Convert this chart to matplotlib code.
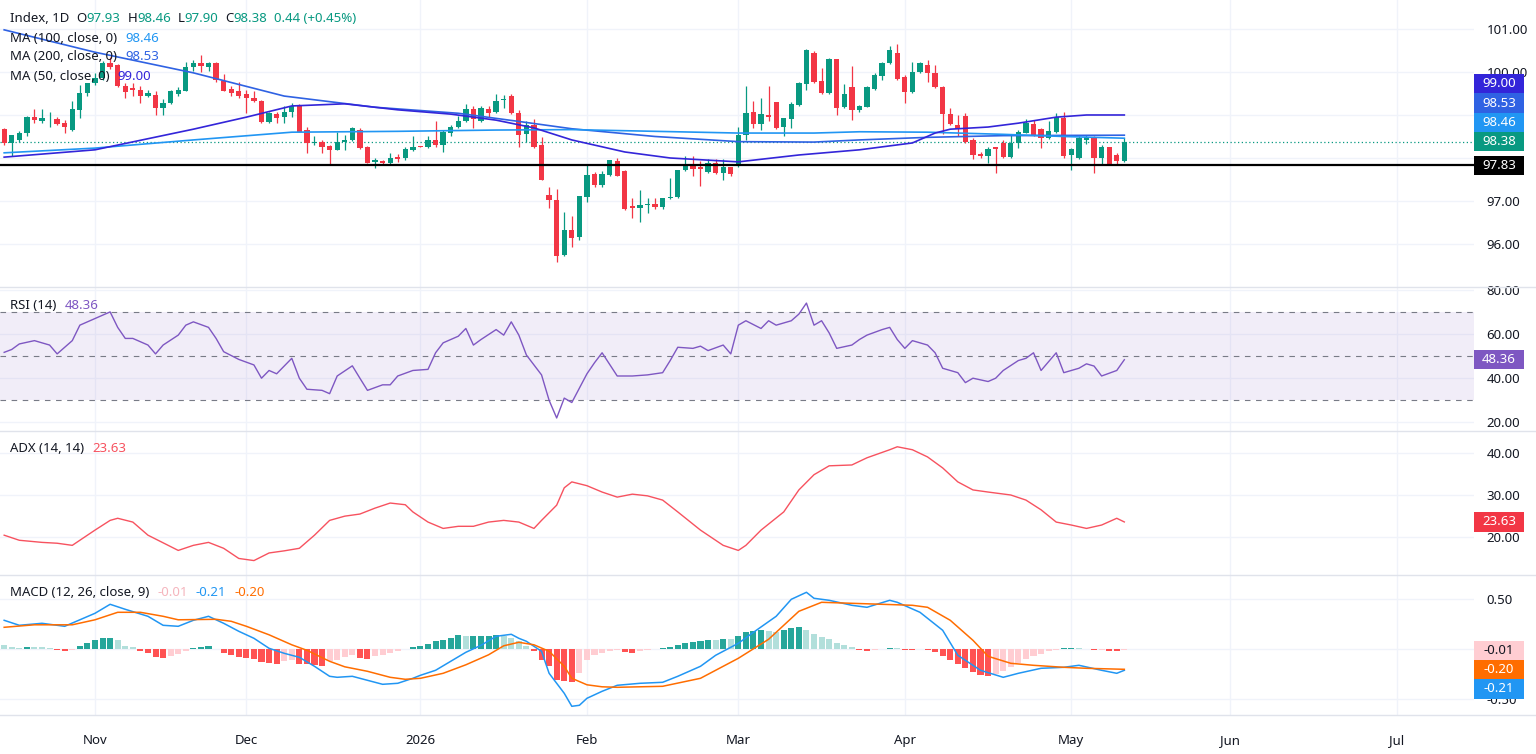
import matplotlib
matplotlib.use("Agg")
import matplotlib.pyplot as plt
from matplotlib.patches import Rectangle
import numpy as np
import pandas as pd

plt.rcParams['font.family'] = ['Noto Sans', 'DejaVu Sans']

# daily bars 16 Oct 2025 .. 12 May 2026; line vertices use bar numbers counted from 3 Nov 2025
first_day = "2025-10-16"
last_day = "2026-05-12"
bars_before_nov3 = 12
support = 97.83

opens = [98.67, 98.34, 98.42, 98.59, 98.96, 98.87, 98.90, 98.91, 98.81, 98.65, 99.12, 99.51,
         99.74, 99.85, 100.20, 100.16, 99.67, 99.63, 99.59, 99.45, 99.46, 99.16, 99.28, 99.48, 99.56, 100.11, 100.22, 100.12, 100.20, 99.79, 99.61, 99.55,
         99.48, 99.39, 99.33, 98.84, 99.03, 98.95, 99.08, 99.23, 98.65, 98.34, 98.37, 98.27, 98.19, 98.37, 98.42, 98.65, 98.26, 97.91, 97.93, 97.89, 98.03, 97.99, 98.18,
         98.27, 98.26, 98.43, 98.30, 98.59, 98.73, 98.85, 99.13, 98.87, 99.14, 99.07, 99.35, 99.44, 99.04, 98.55, 98.77, 98.30, 97.14, 97.02, 95.74, 96.33, 96.16,
         97.10, 97.63, 97.37, 97.60, 97.93, 97.70, 96.88, 96.83, 96.90, 96.94, 96.85, 97.06, 97.10, 97.71, 97.84, 97.78, 97.67, 97.88, 97.64, 97.79,
         97.86, 98.53, 99.06, 98.79, 99.01, 99.30, 98.71, 98.91, 99.24, 99.72, 100.45, 99.79, 99.52, 100.30, 99.18, 99.66, 99.12, 99.19, 99.60, 99.91, 100.20, 100.45,
         99.89, 99.54, 100.01, 100.16, 99.97, 99.66, 99.02, 98.77, 98.98, 98.42, 98.10, 98.05, 98.25, 98.36, 98.03, 98.34, 98.59, 98.79, 98.67, 98.46, 98.61, 98.92,
         98.07, 97.99, 98.43, 98.46, 98.01, 98.25, 98.07, 97.93]
highs = [98.69, 98.54, 98.62, 98.97, 99.13, 99.13, 99.08, 98.96, 98.88, 99.33, 99.70, 99.75,
         99.97, 100.26, 100.36, 100.18, 99.75, 99.74, 99.67, 99.59, 99.55, 99.37, 99.59, 99.65, 100.24, 100.27, 100.40, 100.24, 100.24, 99.95, 99.67, 99.77,
         99.57, 99.55, 99.36, 99.08, 99.08, 99.21, 99.29, 99.26, 98.73, 98.51, 98.41, 98.30, 98.61, 98.53, 98.73, 98.69, 98.27, 97.99, 97.95, 98.11, 98.09, 98.26, 98.50,
         98.28, 98.50, 98.87, 98.66, 98.77, 98.98, 99.26, 99.21, 99.21, 99.20, 99.49, 99.46, 99.49, 99.12, 98.85, 98.90, 98.48, 97.33, 97.27, 96.75, 96.65, 97.12,
         97.84, 97.67, 97.70, 97.96, 98.01, 97.71, 97.06, 97.26, 97.06, 97.08, 97.08, 97.53, 97.73, 98.05, 98.05, 97.94, 97.97, 97.98, 97.97, 97.80,
         98.71, 99.67, 99.33, 99.40, 99.67, 99.31, 98.94, 99.31, 99.77, 100.53, 100.48, 100.09, 100.32, 100.30, 99.72, 100.14, 99.24, 99.68, 99.98, 100.24, 100.60, 100.65,
         99.93, 100.24, 100.24, 100.28, 100.16, 99.68, 99.16, 99.00, 99.04, 98.46, 98.15, 98.26, 98.26, 98.42, 98.53, 98.65, 98.90, 98.88, 98.69, 98.87, 99.04, 99.08,
         98.23, 98.50, 98.53, 98.50, 98.30, 98.26, 98.12, 98.46]
lows = [98.30, 98.05, 98.38, 98.51, 98.81, 98.81, 98.71, 98.77, 98.57, 98.62, 98.92, 99.43,
        99.70, 99.81, 100.06, 99.66, 99.39, 99.43, 99.29, 99.41, 98.99, 98.99, 99.26, 99.43, 99.55, 100.03, 100.01, 100.03, 99.77, 99.55, 99.43, 99.39,
        99.04, 99.31, 98.81, 98.81, 98.82, 98.81, 98.96, 98.60, 98.12, 98.30, 98.12, 97.84, 98.18, 98.19, 98.40, 98.21, 97.88, 97.76, 97.87, 97.87, 97.91, 97.95, 98.16,
        98.25, 98.23, 98.26, 98.14, 98.51, 98.69, 98.83, 98.69, 98.84, 98.96, 99.05, 99.16, 99.02, 98.26, 98.38, 98.24, 97.49, 96.83, 95.57, 95.72, 95.94, 96.09,
        96.98, 97.33, 97.32, 97.58, 97.57, 96.79, 96.60, 96.50, 96.73, 96.82, 96.82, 97.05, 97.08, 97.69, 97.58, 97.35, 97.65, 97.63, 97.48, 97.57,
        97.80, 98.42, 98.69, 98.66, 98.86, 98.68, 98.50, 98.69, 99.22, 99.58, 99.74, 99.49, 99.49, 99.00, 99.16, 98.88, 99.08, 99.18, 99.59, 99.82, 100.19, 99.82,
        99.29, 99.52, 99.98, 99.77, 99.62, 98.56, 98.77, 98.51, 98.36, 97.97, 97.99, 97.88, 97.64, 98.01, 98.01, 98.23, 98.57, 98.50, 98.23, 98.44, 98.59, 97.99,
        97.72, 97.97, 98.33, 97.64, 97.84, 97.84, 97.86, 97.90]
closes = [98.34, 98.53, 98.59, 98.96, 98.88, 98.92, 98.91, 98.79, 98.71, 99.13, 99.52, 99.74,
          99.85, 100.20, 100.12, 99.67, 99.53, 99.59, 99.45, 99.50, 99.16, 99.29, 99.55, 99.59, 100.11, 100.22, 100.14, 100.20, 99.81, 99.56, 99.51, 99.43,
          99.39, 99.33, 98.84, 99.04, 98.94, 99.08, 99.21, 98.61, 98.34, 98.38, 98.26, 98.19, 98.37, 98.42, 98.70, 98.23, 97.89, 97.95, 97.89, 97.99, 97.97, 98.20, 98.26,
          98.26, 98.43, 98.30, 98.61, 98.73, 98.86, 99.13, 98.90, 99.17, 99.05, 99.33, 99.37, 99.04, 98.53, 98.76, 98.26, 97.49, 97.02, 95.72, 96.33, 96.13, 97.12,
          97.60, 97.37, 97.63, 97.95, 97.58, 96.81, 96.83, 96.91, 96.94, 96.85, 97.06, 97.10, 97.72, 97.84, 97.74, 97.75, 97.89, 97.64, 97.80, 97.63,
          98.53, 99.04, 98.79, 99.02, 98.95, 98.69, 98.92, 99.26, 99.75, 100.51, 99.77, 99.52, 100.30, 99.16, 99.49, 99.12, 99.21, 99.64, 99.93, 100.20, 100.50, 99.83,
          99.54, 100.01, 100.20, 99.98, 99.64, 99.02, 98.78, 98.67, 98.38, 98.07, 98.05, 98.20, 98.22, 98.03, 98.36, 98.61, 98.82, 98.51, 98.46, 98.63, 98.95, 98.05,
          98.21, 98.46, 98.48, 98.01, 98.26, 97.84, 97.94, 98.38]

ma50_at = [-12, 0, 13, 20, 26, 33, 40, 47, 53, 58, 63, 70, 76, 85, 93, 101, 108, 111, 113, 118, 122, 127, 131, 136]
ma50 = [98.02, 98.19, 98.67, 98.95, 99.21, 99.26, 99.12, 99.02, 98.88, 98.70, 98.42, 98.14, 98.00, 97.91, 98.07, 98.19, 98.35, 98.58, 98.67, 98.72, 98.81, 98.95, 99.00, 99.00]
ma100_at = [-12, 0, 13, 26, 40, 53, 63, 74, 85, 95, 101, 110, 120, 128, 136]
ma100 = [98.12, 98.23, 98.42, 98.60, 98.62, 98.65, 98.66, 98.62, 98.58, 98.58, 98.61, 98.60, 98.55, 98.50, 98.46]
ma200_at = [-12, 0, 13, 25, 37, 48, 56, 63, 74, 85, 95, 101, 110, 120, 136]
ma200 = [100.98, 100.46, 99.98, 99.44, 99.18, 99.04, 98.85, 98.68, 98.50, 98.38, 98.37, 98.42, 98.48, 98.52, 98.53]

rsi_at = [-12, -11, -10, -8, -6, -5, -3, -2, 0, 2, 3, 4, 5, 7, 8, 9, 11, 12, 13, 15, 16, 17, 19, 21, 22, 23, 24, 26, 27, 28,
          30, 31, 32, 34, 35, 36, 38, 39, 40, 42, 44, 45, 46, 48, 49, 50, 51, 53, 54, 55, 56, 57, 59, 60, 61, 62, 63, 65, 66, 67,
          69, 70, 71, 73, 75, 76, 77, 79, 80, 81, 83, 84, 85, 86, 88, 89, 90, 92, 93, 94, 95, 96, 97, 98, 100, 101, 102, 104, 105, 106,
          107, 108, 110, 111, 112, 114, 115, 116, 118, 119, 120, 122, 123, 124, 125, 127, 128, 130, 131, 132, 133, 135, 136]
rsi = [51.7, 53, 55.5, 57, 55, 51, 57, 64, 67, 70, 63, 58, 58, 55, 51, 55, 59.5, 64, 65.5, 63, 58, 52, 48.5, 46, 40, 43.5, 42, 49, 40, 35,
       34.5, 33, 41, 45.6, 40, 34.5, 37, 37, 41, 43.5, 44, 51.5, 56, 59, 62.5, 55, 57.5, 62, 59.5, 65.5, 59.5, 50.5, 41.5, 30, 22, 31, 29, 42, 47, 51.5,
       41, 41, 41, 41.5, 42.5, 48, 54, 53.5, 54.5, 52.5, 55, 51, 64, 66, 62.5, 66, 64, 66, 69, 74, 64, 66, 60.5, 53.5, 55, 57.5, 59.5, 62, 63, 57.5,
       53.5, 57, 55, 51.5, 44.5, 42.5, 38, 40, 38.5, 40, 43.5, 48, 49, 51.5, 43.5, 51.5, 42.5, 44.5, 46.5, 45.5, 41, 43.5, 48.36]

adx_at = [-12, -10, -7, -5, -3, -2, 0, 2, 3, 5, 7, 11, 13, 15, 17, 19, 21, 23, 25, 27, 29, 31, 33, 35, 37, 39, 41, 42, 44, 46,
          48, 50, 52, 54, 56, 58, 59, 61, 62, 63, 65, 67, 69, 71, 73, 75, 77, 80, 83, 85, 86, 88, 91, 93, 95, 97, 100, 102, 105, 106,
          108, 110, 112, 114, 116, 118, 121, 123, 125, 127, 129, 131, 133, 135, 136]
adx = [20.5, 19.3, 18.8, 18.6, 18.1, 19.3, 21.7, 24, 24.5, 23.6, 20.5, 16.9, 18.1, 18.8, 17.4, 15, 14.5, 16.3, 16.8, 17.4, 20.5, 24, 25, 25.5, 26.9, 28.1, 27.7, 26, 23.6, 22.1,
       22.6, 22.6, 23.6, 24, 23.6, 22.1, 24, 27.6, 31.7, 33.1, 32.2, 30.7, 29.5, 30.2, 29.8, 28.8, 26, 21.7, 18.1, 16.9, 18.1, 21.7, 26, 31.2, 34.8, 36.9, 37.1, 38.8, 40.7, 41.4,
       40.7, 39, 36.4, 33.1, 31.2, 30.7, 30, 28.8, 26.5, 23.6, 22.9, 22.1, 22.9, 24.5, 23.63]

macd_at = [-12, -10, -7, -4, 0, 2, 4, 7, 9, 11, 13, 15, 17, 19, 21, 23, 25, 27, 29, 31, 32, 34, 35, 37, 38, 40, 42, 43, 45, 47,
           49, 51, 53, 55, 56, 57, 59, 60, 62, 63, 64, 65, 67, 69, 72, 75, 77, 80, 82, 85, 87, 90, 92, 94, 95, 97, 100, 102, 105, 106,
           109, 112, 114, 117, 120, 122, 125, 128, 130, 133, 135, 136]
macd = [0.29, 0.24, 0.26, 0.23, 0.36, 0.45, 0.40, 0.33, 0.24, 0.23, 0.29, 0.33, 0.26, 0.18, 0.11, 0.01, -0.04, -0.08, -0.17, -0.27, -0.28, -0.27, -0.29, -0.33, -0.35, -0.34, -0.29, -0.26, -0.21, -0.12,
        -0.03, 0.04, 0.13, 0.15, 0.11, 0.08, -0.02, -0.24, -0.44, -0.57, -0.56, -0.49, -0.42, -0.36, -0.34, -0.33, -0.27, -0.17, -0.06, 0.06, 0.17, 0.33, 0.50, 0.57, 0.51, 0.49, 0.44, 0.42, 0.49, 0.47,
        0.37, 0.19, -0.06, -0.21, -0.28, -0.24, -0.19, -0.18, -0.16, -0.21, -0.24, -0.21]
signal_at = [-12, -8, -3, 0, 3, 6, 9, 11, 16, 18, 20, 23, 26, 28, 31, 33, 36, 39, 41, 43, 46, 49, 52, 54, 56, 58, 60, 62, 63, 65,
             67, 69, 75, 80, 85, 89, 93, 96, 100, 104, 108, 110, 113, 116, 118, 121, 124, 128, 131, 136]
signal = [0.22, 0.245, 0.245, 0.295, 0.37, 0.37, 0.33, 0.295, 0.30, 0.28, 0.23, 0.145, 0.045, -0.01, -0.12, -0.175, -0.22, -0.28, -0.30, -0.29, -0.24, -0.155, -0.055, 0.035, 0.07, 0.045, -0.02, -0.17, -0.29, -0.355,
          -0.375, -0.38, -0.37, -0.29, -0.09, 0.10, 0.38, 0.47, 0.46, 0.45, 0.44, 0.42, 0.29, 0.09, -0.07, -0.14, -0.16, -0.18, -0.19, -0.20]

hist = [0.04, 0.02, 0.01, 0.02, 0.02, 0.02, 0.01, -0.01, -0.02, -0.005, 0.03, 0.06,
        0.09, 0.11, 0.112, 0.09, 0.035, 0.02, -0.02, -0.04, -0.08, -0.085, -0.065, -0.05, -0.02, 0.01, 0.02, 0.03, 0.0, -0.04, -0.055, -0.08,
        -0.09, -0.10, -0.13, -0.14, -0.145, -0.12, -0.11, -0.15, -0.15, -0.16, -0.165, -0.12, -0.11, -0.08, -0.06, -0.09, -0.095, -0.07, -0.06, -0.04, -0.02,
        0.005, 0.02, 0.03, 0.05, 0.08, 0.09, 0.11, 0.14, 0.13, 0.131, 0.133, 0.135, 0.14, 0.13, 0.11, 0.08, 0.03, -0.02, -0.11, -0.17, -0.31, -0.32, -0.33, -0.24,
        -0.11, -0.06, -0.04, -0.02, -0.01, -0.03, -0.04, -0.02, -0.01, 0.0, 0.01, 0.02, 0.04, 0.06, 0.07, 0.08, 0.09, 0.09, 0.10, 0.10,
        0.13, 0.17, 0.18, 0.19, 0.18, 0.17, 0.19, 0.21, 0.22, 0.19, 0.15, 0.12, 0.10, 0.06, 0.04, 0.02, -0.01, -0.02, -0.01, 0.0, 0.01, 0.01,
        -0.01, -0.01, 0.0, -0.01, -0.03, -0.07, -0.11, -0.15, -0.19, -0.23, -0.26, -0.27, -0.25, -0.22, -0.18, -0.14, -0.10, -0.07, -0.05, -0.02, -0.005, 0.01,
        0.015, 0.01, 0.005, -0.01, -0.005, -0.015, -0.02, -0.01]

# colours
UP, DN = '#089981', '#f23645'
TXT = '#131722'
GRID = '#f0f3fa'
SEP = '#e0e3eb'
C_MA50, C_MA100, C_MA200 = '#3325d9', '#2196f3', '#2f62e3'
C_RSI, C_ADX = '#7e57c2', '#f7525f'
C_MACD, C_SIG = '#2196f3', '#ff6d00'

W, H = 1536, 754
RIGHT = 1474
FS = 9.5

fig = plt.figure(figsize=(W / 100, H / 100), dpi=100)
fig.patch.set_facecolor('white')

days = pd.bdate_range(first_day, last_day)
x = np.arange(len(days)) - bars_before_nov3
o, h, l, c = map(np.array, (opens, highs, lows, closes))

xlim = (-12.55, 182.2)
# month marks, continued into the empty future part of the axis
cal = pd.bdate_range(first_day, "2026-08-31")
cal_x = np.arange(len(cal)) - bars_before_nov3
new_month = np.r_[False, cal.month[1:] != cal.month[:-1]] & (cal_x < xlim[1])
month_x = cal_x[new_month]
month_lbl = [str(d.year) if d.month == 1 else d.strftime('%b') for d in cal[new_month]]


def panel(top, bottom, ylim, ticks, fmt, hidden=()):
    ax = fig.add_axes([0, 1 - bottom / H, RIGHT / W, (bottom - top) / H])
    for s in ax.spines.values():
        s.set_visible(False)
    ax.yaxis.tick_right()
    ax.set_yticks(ticks)
    ax.set_yticklabels(['' if t in hidden else fmt.format(t) for t in ticks])
    ax.tick_params(axis='y', length=0, pad=9, labelsize=FS, labelcolor=TXT)
    ax.tick_params(axis='x', length=0)
    ax.set_xticks([])
    for t in ticks:
        ax.axhline(t, color=GRID, lw=1, zorder=0)
    for mx in month_x:
        ax.axvline(mx, color=GRID, lw=1, zorder=0)
    ax.set_ylim(*ylim)
    ax.set_xlim(*xlim)
    return ax


# tick labels that sit under the value tags are left blank, as on the reference
ax_p = panel(0, 287, (95.00, 101.674), [96, 97, 98, 99, 100, 101], '{:.2f}', hidden=(98, 99))
ax_r = panel(287, 431, (16.11, 81.27), [20, 40, 60, 80], '{:.2f}')
ax_a = panel(431, 575, (11.09, 45.13), [20, 30, 40], '{:.2f}')
ax_m = panel(575, 715, (-0.657, 0.743), [-0.5, 0.0, 0.5], '{:.2f}', hidden=(0.0,))

# price panel
col = np.where(c >= o, UP, DN)
ax_p.vlines(x, l, h, colors=col, lw=0.9, zorder=3)
ax_p.bar(x, np.maximum(np.abs(c - o), 0.012), bottom=np.minimum(o, c), width=0.7,
         color=col, linewidth=0, zorder=4)
ax_p.plot(ma200_at, ma200, color=C_MA200, lw=1.2, zorder=5)
ax_p.plot(ma100_at, ma100, color=C_MA100, lw=1.2, zorder=5)
ax_p.plot(ma50_at, ma50, color=C_MA50, lw=1.2, zorder=5)
ax_p.axhline(c[-1], color=UP, lw=0.9, ls=(0, (1, 2)), zorder=2)
ax_p.axhline(support, color='black', lw=1.6, zorder=6)

# RSI
ax_r.axhspan(30, 70, color=C_RSI, alpha=0.1, lw=0, zorder=0)
for lv in (70, 50, 30):
    ax_r.axhline(lv, color='#787b86', lw=0.8, ls=(0, (5, 5)), zorder=1)
ax_r.plot(rsi_at, rsi, color=C_RSI, lw=1.0, zorder=3)

# ADX
ax_a.plot(adx_at, adx, color=C_ADX, lw=1.0, zorder=3)

# MACD
hcol = []
prev = hist[0]
for v in hist:
    if v >= 0:
        hcol.append('#26a69a' if v > prev else '#b2dfdb')
    else:
        hcol.append('#ffcdd2' if v > prev else '#ff5252')
    prev = v
ax_m.bar(x, hist, width=0.8, color=hcol, linewidth=0, zorder=2)
ax_m.plot(macd_at, macd, color=C_MACD, lw=1.1, zorder=3)
ax_m.plot(signal_at, signal, color=C_SIG, lw=1.1, zorder=3)

# time axis
ax_m.set_xticks(month_x)
ax_m.set_xticklabels(month_lbl)
ax_m.tick_params(axis='x', length=0, pad=14, labelsize=FS, labelcolor=TXT)
for lab in ax_m.get_xticklabels():
    if lab.get_text().isdigit():
        lab.set_fontweight('bold')
ax_m.set_xlim(*xlim)

# separators between panes
for yy in (287, 431, 575, 715):
    fig.add_artist(plt.Line2D([0, 1], [1 - yy / H, 1 - yy / H], transform=fig.transFigure,
                              color=SEP, lw=1))


# value tags on the scale, stacked so they do not overlap
def tags(ax, items, upward):
    hpx = 19.3
    pos = [(ax.transData.transform((0, v))[1], t, fc, tc) for v, t, fc, tc in items]
    pos.sort(key=lambda p: p[0], reverse=not upward)
    last = None
    for y, t, fc, tc in pos:
        if last is not None:
            y = max(y, last + hpx) if upward else min(y, last - hpx)
        last = y
        fig.add_artist(Rectangle((RIGHT / W, (y - hpx / 2) / H), 50 / W, hpx / H,
                                 transform=fig.transFigure, fc=fc, ec='none', zorder=5))
        fig.text(1499 / W, y / H, t, color=tc, fontsize=FS, ha='center', va='center', zorder=6)


tags(ax_p, [(ma50[-1], f'{ma50[-1]:.2f}', C_MA50, 'white'),
            (ma200[-1], f'{ma200[-1]:.2f}', C_MA200, 'white'),
            (ma100[-1], f'{ma100[-1]:.2f}', C_MA100, 'white'),
            (c[-1], f'{c[-1]:.2f}', UP, 'white'),
            (support, f'{support:.2f}', 'black', 'white')], upward=True)
tags(ax_r, [(rsi[-1], f'{rsi[-1]:.2f}', C_RSI, 'white')], upward=True)
tags(ax_a, [(adx[-1], f'{adx[-1]:.2f}', '#f23645', 'white')], upward=True)
tags(ax_m, [(hist[-1], f'{hist[-1]:.2f}', '#ffcdd2', TXT),
            (signal[-1], f'{signal[-1]:.2f}', C_SIG, 'white'),
            (macd[-1], f'{macd[-1]:.2f}', C_MACD, 'white')], upward=False)

# legends in the top-left corner of each pane
rend = fig.canvas.get_renderer()


def legend_row(y, parts, x0=10):
    xx = x0
    for s, cc, gap in parts:
        t = fig.text(xx / W, 1 - y / H, s, color=cc, fontsize=FS, ha='left', va='center')
        xx += t.get_window_extent(renderer=rend).width + gap


chg = c[-1] - c[-2]
legend_row(19, [('Index, 1D', TXT, 7), ('O', TXT, 0), (f'{o[-1]:.2f}', UP, 7),
                ('H', TXT, 0), (f'{h[-1]:.2f}', UP, 7), ('L', TXT, 0), (f'{l[-1]:.2f}', UP, 7),
                ('C', TXT, 0), (f'{c[-1]:.2f}', UP, 7),
                (f'{chg:.2f} ({chg / c[-2] * 100:+.2f}%)', UP, 0)])
legend_row(38, [('MA (100, close, 0)', TXT, 8), (f'{ma100[-1]:.2f}', C_MA100, 0)])
legend_row(57, [('MA (200, close, 0)', TXT, 8), (f'{ma200[-1]:.2f}', C_MA200, 0)])
legend_row(76, [('MA (50, close, 0)', TXT, 8), (f'{ma50[-1]:.2f}', C_MA50, 0)])
legend_row(305, [('RSI (14)', TXT, 8), (f'{rsi[-1]:.2f}', C_RSI, 0)])
legend_row(449, [('ADX (14, 14)', TXT, 8), (f'{adx[-1]:.2f}', C_ADX, 0)])
legend_row(593, [('MACD (12, 26, close, 9)', TXT, 8), (f'{hist[-1]:.2f}', '#f5b5bd', 8),
                 (f'{macd[-1]:.2f}', C_MACD, 8), (f'{signal[-1]:.2f}', C_SIG, 0)])

fig.savefig('out.png', dpi=100, facecolor='white')
